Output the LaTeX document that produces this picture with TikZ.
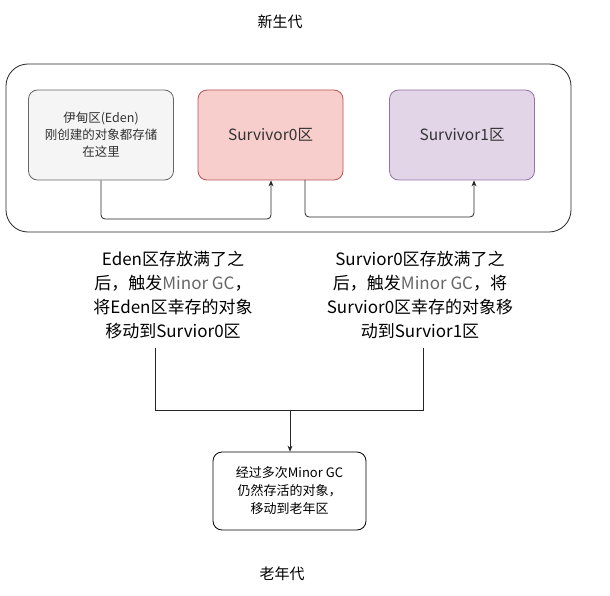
\documentclass[tikz,border=0pt]{standalone}
\usepackage{fontspec}
\setmainfont{Noto Sans CJK SC}
\usetikzlibrary{arrows.meta}
\definecolor{edenfill}{HTML}{F5F5F5}
\definecolor{edenline}{HTML}{666666}
\definecolor{s0fill}{HTML}{F8CECC}
\definecolor{s0line}{HTML}{B85450}
\definecolor{s1fill}{HTML}{E1D5E7}
\definecolor{s1line}{HTML}{9673A6}
\definecolor{txt}{HTML}{333333}
\begin{document}
\begin{tikzpicture}[x=1pt,y=-1pt,
  box/.style={draw, rounded corners=9pt, minimum width=145pt, minimum height=90pt, align=center, inner sep=1pt, line width=0.8pt},
  conn/.style={draw=black!85, line width=0.8pt, rounded corners=4pt},
  arr/.style={conn, -{Stealth[length=6pt,width=5pt]}},
  lbl/.style={align=center, font=\fontsize{17}{24}\selectfont}
]
\useasboundingbox (0,0) rectangle (610,596);
\node (title) at (280,22) {\fontsize{15}{18}\selectfont 新生代};
\draw[rounded corners=22pt, line width=0.8pt, black!85] (6,64) rectangle (571,232);
\node[box, draw=edenline, fill=edenfill, text=txt, font=\fontsize{12.5}{17}\selectfont] (eden) at (101,135) {伊甸区(Eden)\\刚创建的对象都存储\\在这里};
\node[box, draw=s0line, fill=s0fill, text=txt, font=\fontsize{15.5}{18}\selectfont] (s0) at (270.5,135) {Survivor0区};
\node[box, draw=s1line, fill=s1fill, text=txt, font=\fontsize{15.5}{18}\selectfont] (s1) at (462,135) {Survivor1区};
\coordinate (a1) at (101,219);
\coordinate (a2) at (271,219);
\draw[arr] (eden.south) -- (a1) -- (a2) -- (a2 |- s0.south);
\coordinate (b0) at (305,180);
\coordinate (b1) at (305,217);
\coordinate (b2) at (474,217);
\draw[arr] (b0) -- (b1) -- (b2) -- (b2 |- s1.south);
\node[lbl] (l1) at (173,295) {Eden区存放满了之\\后，触发\textcolor{edenline}{Minor GC}，\\将Eden区幸存的对象\\移动到Survior0区};
\node[lbl] (l2) at (420,295) {Survior0区存放满了之\\后，触发\textcolor{edenline}{Minor GC}，将\\Survior0区幸存的对象移\\动到Survior1区};
\node[draw, rounded corners=9pt, minimum width=153pt, minimum height=78pt, align=center, inner sep=1pt, line width=0.8pt, font=\fontsize{13}{18}\selectfont] (old) at (289.5,491) {经过多次Minor GC\\仍然存活的对象，\\移动到老年区};
\coordinate (m1) at (155,348);
\coordinate (m2) at (423,348);
\coordinate (j) at (290,410);
\draw[conn, rounded corners=0pt, line width=0.7pt] (m1) -- (m1 |- j) -- (m2 |- j) -- (m2);
\draw[conn, line width=0.7pt, -{Stealth[length=6pt,width=5pt]}] (j) -- (j |- old.north);
\node (oldt) at (282,574) {\fontsize{15}{18}\selectfont 老年代};
\end{tikzpicture}
\end{document}
